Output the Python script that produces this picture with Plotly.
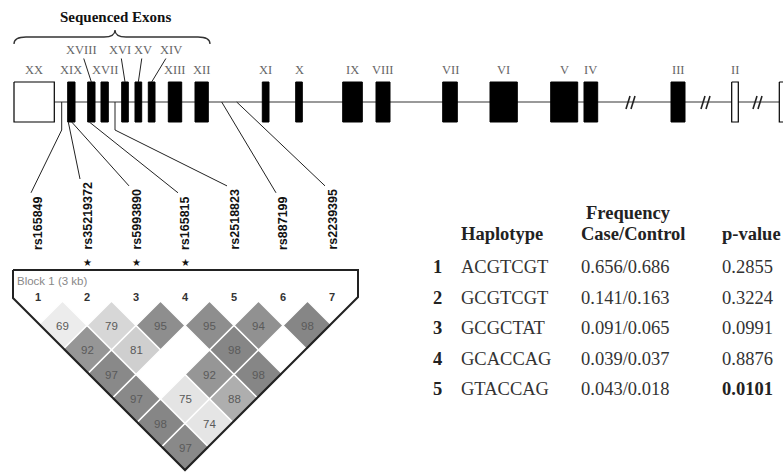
import numpy as np
import plotly.graph_objects as go

# ---------------- data ----------------
exon_names = ["XX", "XIX", "XVIII", "XVII", "XVI", "XV", "XIV", "XIII", "XII", "XI",
              "X", "IX", "VIII", "VII", "VI", "V", "IV", "III", "II", "I"]
exon_start = [14, 67.7, 87.7, 101, 121.7, 135, 148.3, 168.3, 195, 262.3,
              295.7, 342.7, 376, 442.7, 490, 550.7, 584, 671, 731.7, 779.3]
exon_end = [54.3, 75, 95, 108.3, 128.3, 141.7, 155, 181.7, 208.3, 269,
            302.3, 362.3, 390, 457.3, 517.3, 577.7, 597.7, 685, 738.3, 800]
exon_coding = [False] + [True] * 17 + [False, False]
break_pos = [629, 704, 756]

snp_ids = ["rs165849", "rs35219372", "rs5993890", "rs165815", "rs2518823", "rs887199", "rs2239395"]
snp_gene_pos = [61.7, 68.3, 71.7, 89.3, 115, 221.7, 236.7]
snp_star = [False, True, True, True, False, False, False]

# D' values by marker distance (row d: pairs (i, i+d))
ld_rows = [
    [69, 79, 95, 95, 94, 98],
    [92, 81, None, 98, None],
    [97, None, 92, 98],
    [97, 75, 88],
    [98, 74],
    [97],
]

hap_ids = [1, 2, 3, 4, 5]
haplotypes = ["ACGTCGT", "GCGTCGT", "GCGCTAT", "GCACCAG", "GTACCAG"]
freq_case = [0.656, 0.141, 0.091, 0.039, 0.043]
freq_control = [0.686, 0.163, 0.065, 0.037, 0.018]
p_values = [0.2855, 0.3224, 0.0991, 0.8876, 0.0101]

# ---------------- layout constants ----------------
W, H = 783, 473
LINE_Y, EX_TOP, EX_BOT = 102, 82, 122
SERIF = "Liberation Serif, Times New Roman, serif"
SANS = "Liberation Sans, Arial, sans-serif"
raised_label_x = {"XVIII": 81, "XVI": 120, "XV": 143, "XIV": 171}
snp_kink = [True, False, False, False, True, False, False]
M_X0, M_DX = 38, 49
LABEL_BOTTOM = 252
ROW0_Y, HALF_W, HALF_H = 325.5, 24.5, 24.5
TFONT = 18.5

fig = go.Figure()
ann = []
shapes = []

# title + brace
ann.append(dict(x=115, y=17, text="<b>Sequenced Exons</b>", showarrow=False,
                font=dict(family=SERIF, size=15, color="#111")))
shapes.append(dict(type="path", xref="x", yref="y",
                   path="M 14 44 Q 14 37 26 37 L 104 37 Q 115 37 115 30 Q 115 37 126 37 L 198 37 Q 210 37 210 44",
                   line=dict(color="#333", width=1.3)))

# backbone
fig.add_trace(go.Scatter(x=[exon_end[0], W + 10], y=[LINE_Y, LINE_Y], mode="lines",
                         line=dict(color="#777", width=1.6), hoverinfo="skip", showlegend=False))

# exons
def exon_poly(sel):
    xs, ys = [], []
    for s, e, c in zip(exon_start, exon_end, exon_coding):
        if c == sel:
            xs += [s, e, e, s, s, None]
            ys += [EX_TOP, EX_TOP, EX_BOT, EX_BOT, EX_TOP, None]
    return xs, ys

xs, ys = exon_poly(True)
fig.add_trace(go.Scatter(x=xs, y=ys, fill="toself", fillcolor="black", mode="lines",
                         line=dict(color="black", width=1), hoverinfo="skip", showlegend=False))
xs, ys = exon_poly(False)
fig.add_trace(go.Scatter(x=xs, y=ys, fill="toself", fillcolor="white", mode="lines",
                         line=dict(color="black", width=1.2), hoverinfo="skip", showlegend=False))

# break marks
bx, by = [], []
for b in break_pos:
    for off in (0, 5):
        bx += [b + off - 3, b + off + 1, None]
        by += [109, 96, None]
fig.add_trace(go.Scatter(x=bx, y=by, mode="lines", line=dict(color="#222", width=1.6),
                         hoverinfo="skip", showlegend=False))

# exon labels
for n, s, e in zip(exon_names, exon_start, exon_end):
    c = (s + e) / 2
    if c > W - 2:
        continue
    if n in raised_label_x:
        ann.append(dict(x=c, y=EX_TOP, ax=raised_label_x[n], ay=50, axref="x", ayref="y",
                        text=n, showarrow=True, arrowhead=0, arrowwidth=1, arrowcolor="#222",
                        standoff=0, startstandoff=0,
                        font=dict(family=SERIF, size=12.5, color="#666")))
    else:
        ann.append(dict(x=c, y=70, text=n, showarrow=False,
                        font=dict(family=SERIF, size=12.5, color="#666")))

# SNP connectors and labels
marker_x = [M_X0 + M_DX * i for i in range(len(snp_ids))]
lx, ly = [], []
for sid, gx, mx, kink in zip(snp_ids, snp_gene_pos, marker_x, snp_kink):
    in_exon = any(s <= gx <= e and c for s, e, c in zip(exon_start, exon_end, exon_coding))
    y0 = EX_BOT if in_exon else LINE_Y
    top = LABEL_BOTTOM - len(sid) * 6.9
    pts = [(gx, y0)]
    if kink:
        pts.append((gx, 130))
    pts.append((mx - 7, top - 4))
    for p in pts:
        lx.append(p[0]); ly.append(p[1])
    lx.append(None); ly.append(None)
    ann.append(dict(x=mx, y=LABEL_BOTTOM, text="<b>%s</b>" % sid, textangle=-90,
                    xanchor="center", yanchor="bottom", showarrow=False,
                    font=dict(family=SANS, size=12.5, color="#111")))
fig.add_trace(go.Scatter(x=lx, y=ly, mode="lines", line=dict(color="#222", width=1),
                         hoverinfo="skip", showlegend=False))
for mx, st in zip(marker_x, snp_star):
    if st:
        ann.append(dict(x=mx, y=262, text="★", showarrow=False,
                        font=dict(family="DejaVu Sans", size=10, color="#111")))

# LD diamonds
def gray(v):
    g = int(round(np.interp(v, [69, 75, 80, 88, 92, 98], [236, 228, 212, 174, 150, 134])))
    return "rgb(%d,%d,%d)" % (g, g, g)

for d, row in enumerate(ld_rows):
    for i, v in enumerate(row):
        if v is None:
            continue
        cx = (marker_x[i] + marker_x[i + d + 1]) / 2
        cy = ROW0_Y + d * HALF_H
        fig.add_trace(go.Scatter(x=[cx, cx + HALF_W, cx, cx - HALF_W, cx],
                                 y=[cy - HALF_H, cy, cy + HALF_H, cy, cy - HALF_H],
                                 fill="toself", fillcolor=gray(v), mode="lines",
                                 line=dict(color="white", width=1.5),
                                 hoverinfo="skip", showlegend=False))
        ann.append(dict(x=cx, y=cy, text=str(v), showarrow=False,
                        font=dict(family=SANS, size=11.5, color="#5a5a5a")))

# LD block frame (drawn on top)
fx = [marker_x[0] - 25, marker_x[-1] + 26, marker_x[-1] + 26, (marker_x[0] + marker_x[-1]) / 2,
      marker_x[0] - 25, marker_x[0] - 25]
fy = [270, 270, 297, 470, 298, 270]
fig.add_trace(go.Scatter(x=fx, y=fy, mode="lines", line=dict(color="#222", width=2),
                         hoverinfo="skip", showlegend=False))
ann.append(dict(x=15, y=281, text="Block 1 (3 kb)", xanchor="left", showarrow=False,
                font=dict(family=SANS, size=11.5, color="#888")))
for i, mx in enumerate(marker_x):
    ann.append(dict(x=mx, y=297, text="<b>%d</b>" % (i + 1), showarrow=False,
                    font=dict(family=SANS, size=11, color="#333")))

# table
COL_ID, COL_HAP, COL_FREQ, COL_P = 437, 459, 579, 720
ann.append(dict(x=628, y=213, text="<b>Frequency</b>", showarrow=False,
                font=dict(family=SERIF, size=TFONT, color="#222")))
for x, t in [(COL_HAP, "Haplotype"), (COL_FREQ, "Case/Control"), (COL_P, "p-value")]:
    ann.append(dict(x=x, y=234, text="<b>%s</b>" % t, xanchor="left", showarrow=False,
                    font=dict(family=SERIF, size=TFONT, color="#222")))
for k, (hid, hp, fc, fcon, p) in enumerate(zip(hap_ids, haplotypes, freq_case, freq_control, p_values)):
    y = 267 + 30.5 * k
    ann.append(dict(x=COL_ID, y=y, text="<b>%d</b>" % hid, showarrow=False,
                    font=dict(family=SERIF, size=TFONT, color="#222")))
    ann.append(dict(x=COL_HAP, y=y, text=hp, xanchor="left", showarrow=False,
                    font=dict(family=SERIF, size=TFONT, color="#333")))
    ann.append(dict(x=COL_FREQ, y=y, text="%.3f/%.3f" % (fc, fcon), xanchor="left", showarrow=False,
                    font=dict(family=SERIF, size=TFONT, color="#333")))
    ptxt = "%.4f" % p
    if p < 0.05:
        ptxt = "<b>%s</b>" % ptxt
    ann.append(dict(x=COL_P, y=y, text=ptxt, xanchor="left", showarrow=False,
                    font=dict(family=SERIF, size=TFONT, color="#222" if p < 0.05 else "#333")))

fig.update_layout(
    width=W, height=H, margin=dict(l=0, r=0, t=0, b=0),
    paper_bgcolor="white", plot_bgcolor="white",
    xaxis=dict(range=[0, W], visible=False, fixedrange=True),
    yaxis=dict(range=[H, 0], visible=False, fixedrange=True),
    annotations=ann, shapes=shapes, showlegend=False,
)
fig.write_html("out.html", config={"displayModeBar": False},
               post_script="document.body.style.margin='0px';document.body.style.overflow='hidden';")
